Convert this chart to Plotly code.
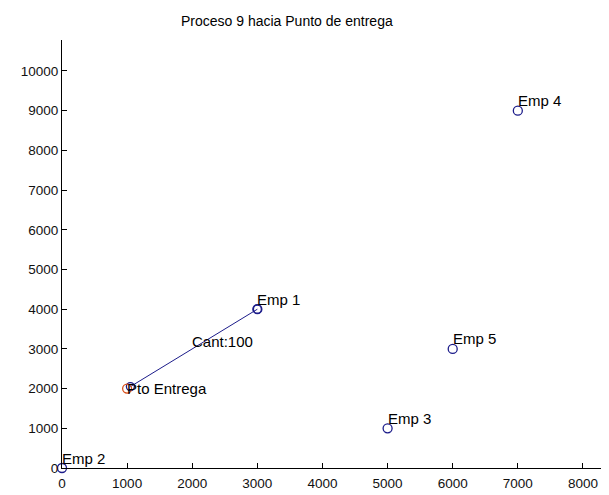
import plotly.graph_objects as go

# puntos de las empresas y el punto de entrega
nombres = ["Emp 1", "Emp 2", "Emp 3", "Emp 4", "Emp 5"]
emp_x = [3000, 0, 5000, 7000, 6000]
emp_y = [4000, 0, 1000, 9000, 3000]

entrega_x = [1000]
entrega_y = [2000]
entrega_nombre = "Pto Entrega"

# ruta del proceso 9 (Emp 1 -> Pto Entrega)
ruta_x = [1050, 3000]
ruta_y = [2050, 4000]
cantidad = 100

x_ticks = [0, 1000, 2000, 3000, 4000, 5000, 6000, 7000, 8000]
y_ticks = [0, 1000, 2000, 3000, 4000, 5000, 6000, 7000, 8000, 9000, 10000]

AZUL = "#1c1c8a"
ROJO = "#d8501c"
FONT = "Liberation Sans, Arial, sans-serif"

fig = go.Figure()

fig.add_trace(go.Scatter(
    x=ruta_x, y=ruta_y, mode="lines+markers",
    line=dict(color=AZUL, width=1),
    marker=dict(symbol="circle-open", size=8, color=AZUL, line=dict(width=1.3)),
    cliponaxis=False, showlegend=False, hoverinfo="skip",
))
fig.add_trace(go.Scatter(
    x=emp_x, y=emp_y, mode="markers",
    marker=dict(symbol="circle-open", size=9, color=AZUL, line=dict(width=1.3)),
    cliponaxis=False, showlegend=False,
))
fig.add_trace(go.Scatter(
    x=entrega_x, y=entrega_y, mode="markers",
    marker=dict(symbol="circle-open", size=9, color=ROJO, line=dict(width=1.3)),
    cliponaxis=False, showlegend=False,
))

# etiquetas
lbl_font = dict(family=FONT, size=15, color="black")
for n, x, y in zip(nombres, emp_x, emp_y):
    fig.add_annotation(x=x, y=y, text=n, showarrow=False,
                       xanchor="left", yanchor="middle", yshift=10, xshift=-2,
                       font=lbl_font)
fig.add_annotation(x=entrega_x[0], y=entrega_y[0], text=entrega_nombre, showarrow=False,
                   xanchor="left", yanchor="middle", xshift=-2, font=lbl_font)
fig.add_annotation(x=sum(ruta_x) / 2, y=sum(ruta_y) / 2, text=f"Cant:{cantidad}",
                   showarrow=False, xanchor="left", yanchor="middle", xshift=-4, yshift=6,
                   font=lbl_font)

# la página añade 8px de margen al body, se descuenta aquí
fig.update_layout(
    width=601, height=487,
    margin=dict(l=54, r=0, t=32, b=27, autoexpand=False),
    paper_bgcolor="white", plot_bgcolor="white",
    font=dict(family=FONT, size=13.5, color="#111111"),
    title=dict(text="Proceso 9 hacia Punto de entrega", x=0.464, xanchor="center",
               y=0.973, yanchor="middle", font=dict(family=FONT, size=14, color="black")),
)
fig.update_xaxes(range=[0, 8400], tickvals=x_ticks, ticktext=[str(v) for v in x_ticks],
                 ticks="inside", ticklen=5, tickcolor="black", showgrid=False, zeroline=False,
                 showline=True, linecolor="black", linewidth=1, automargin=False,
                 ticklabelstandoff=3)
fig.update_yaxes(range=[0, 10780], tickvals=y_ticks, ticktext=[str(v) for v in y_ticks],
                 ticks="inside", ticklen=5, tickcolor="black", showgrid=False, zeroline=False,
                 showline=True, linecolor="black", linewidth=1, automargin=False)

fig.write_html("out.html")
